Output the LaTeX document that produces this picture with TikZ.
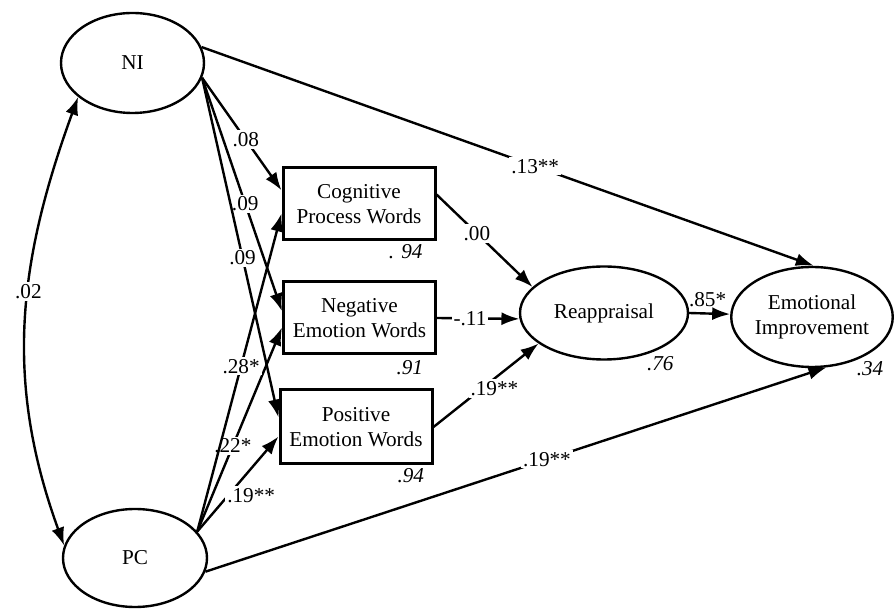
\documentclass[tikz,border=0pt]{standalone}
\usepackage{fontspec}
\setmainfont{Liberation Serif}
\usetikzlibrary{arrows.meta}
\usetikzlibrary{shapes.geometric}

\newcommand{\semfont}{\fontsize{10.6}{12.5}\selectfont}

\begin{document}
\begin{tikzpicture}[x = 0.5pt, y = 0.5pt, font = \semfont,
  >= {Latex[length = 9pt, width = 6.5pt]},
  latent/.style = {draw, ellipse, line width = 1.2pt, inner sep = 0pt, align = center},
  wordbox/.style = {draw, rectangle, line width = 1.5pt, minimum width = 76pt, minimum height = 36pt, inner sep = 0pt, align = center},
  effect/.style = {line width = 1.2pt, ->},
  coef/.style = {fill = white, inner sep = 1pt},
  r2/.style = {font = \semfont\itshape, inner sep = 0.5pt}]
\useasboundingbox (0, 0) rectangle (896, -609);

\node[latent, minimum width = 71.5pt, minimum height = 50pt] (NI) at (132.5, -63) {NI};
\node[latent, minimum width = 72pt, minimum height = 49pt] (PC) at (135, -558) {PC};

\node[wordbox, label = {[r2, anchor = north east, yshift = -1pt]-30:. 94}] (cog) at (359, -204) {Cognitive\\Process Words};
\node[wordbox, label = {[r2, anchor = north east, yshift = -2pt]-30:.91}] (neg) at (359.5, -318) {Negative\\Emotion Words};
\node[wordbox, minimum height = 37pt, label = {[r2, anchor = north east, yshift = -1pt]-29:.94}] (pos) at (356, -427) {Positive\\Emotion Words};

\node[latent, minimum width = 84pt, minimum height = 46.5pt, label = {[r2]below right:.76}] (reap) at (604, -313) {Reappraisal};
\node[latent, minimum width = 80pt, minimum height = 50pt, label = {[r2]below right:.34}] (emo) at (812, -317) {Emotional\\Improvement};

\draw[<->, line width = 1.2pt] (NI.212) to[out = 250, in = 110] node[coef, pos = 0.43] {.02} (PC.170);

\draw[effect] (NI.-12) -- node[coef, pos = 0.55] {.08} (cog.170);
\draw[effect] (NI.-12) -- node[coef, pos = 0.54] {.09} (neg.175);
\draw[effect] (NI.-12) -- node[coef, pos = 0.53] {.09} (pos.173);
\draw[effect] (NI.13) -- node[coef, pos = 0.545] {.13**} (emo.88);

\draw[effect] (PC.23) -- node[coef, pos = 0.38, anchor = west, xshift = -2pt] {.19**} (pos.187);
\draw[effect] (PC.23) -- node[coef, pos = 0.42] {.22*} (neg.187);
\draw[effect] (PC.23) -- node[coef, pos = 0.52] {.28*} (cog.187);
\draw[effect] (PC.-11) -- node[coef, pos = 0.55] {.19**} (emo.-74);

\draw[effect] (cog.7) -- node[coef, pos = 0.42] {.00} (reap.160);
\draw[effect] (neg.east) -- node[coef, pos = 0.4] {-.11} (reap.184);
\draw[effect] (pos.east) -- node[coef, pos = 0.58, yshift = -5pt] {.19**} (reap.205);
\draw[effect] (reap.east) -- node[above, pos = 0.45, inner sep = 2pt, yshift = 1pt] {.85*} (emo.178);

\end{tikzpicture}
\end{document}
